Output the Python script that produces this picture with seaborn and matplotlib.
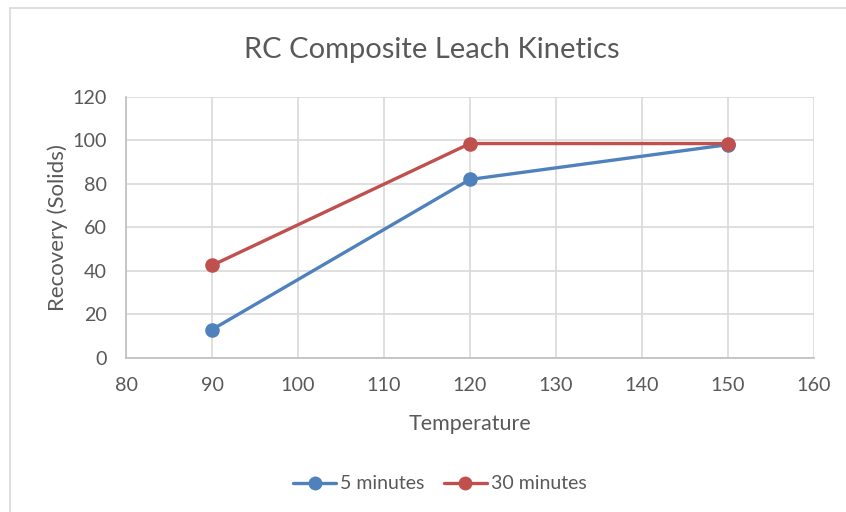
import matplotlib
matplotlib.use("Agg")
import matplotlib.pyplot as plt
import seaborn as sns
import pandas as pd
from matplotlib.lines import Line2D

temperature = [90, 120, 150]
recovery_5min = [13, 82, 98]
recovery_30min = [42.5, 98.5, 98.5]
series_names = ["5 minutes", "30 minutes"]
colors = ["#4F81BD", "#C0504D"]

df = pd.DataFrame({
    "Temperature": temperature * 2,
    "Recovery": recovery_5min + recovery_30min,
    "Series": [series_names[0]] * 3 + [series_names[1]] * 3,
})

sns.set_theme(style="white")
plt.rcParams["font.family"] = ["Lato", "DejaVu Sans"]

fig = plt.figure(figsize=(8.46, 5.12), dpi=100)
ax = fig.add_axes([0.149, 0.301, 0.813, 0.510])

sns.lineplot(data=df, x="Temperature", y="Recovery", hue="Series",
             palette=colors, marker="o", markersize=10.5, markeredgewidth=0,
             linewidth=2.4, ax=ax, legend=False)

ax.set_xlim(80, 160)
ax.set_ylim(0, 120)
ax.set_xticks(range(80, 161, 10))
ax.set_yticks(range(0, 121, 20))
ax.grid(True, color="#d9d9d9", linewidth=1.2)
ax.set_axisbelow(True)
for s in ["top", "right"]:
    ax.spines[s].set_visible(False)
for s in ["left", "bottom"]:
    ax.spines[s].set_color("#bfbfbf")
    ax.spines[s].set_linewidth(1.2)
ax.tick_params(axis="both", colors="#595959", labelsize=14.2, length=0)
ax.tick_params(axis="x", pad=14)
ax.tick_params(axis="y", pad=14)
ax.set_xlabel("Temperature", color="#595959", fontsize=15.5, labelpad=14)
ax.set_ylabel("Recovery (Solids)", color="#595959", fontsize=16, labelpad=3)

fig.suptitle("RC Composite Leach Kinetics", x=0.511, y=0.928, fontsize=21, color="#595959")

handles = [Line2D([0], [0], color=c, marker="o", markersize=10, linewidth=2.4, markeredgewidth=0)
           for c in colors]
fig.legend(handles, series_names, loc="center", bbox_to_anchor=(0.52, 0.055), ncol=2,
           frameon=False, fontsize=14, labelcolor="#595959", handlelength=2.2,
           handletextpad=0.2, columnspacing=1.0)

# outer chart border (top and left)
fig.add_artist(Line2D([10/846, 1.0], [1-8/512, 1-8/512], transform=fig.transFigure,
                      color="#d9d9d9", linewidth=1.2))
fig.add_artist(Line2D([10/846, 10/846], [0, 1-8/512], transform=fig.transFigure,
                      color="#d9d9d9", linewidth=1.2))

fig.savefig("out.png", dpi=100)
